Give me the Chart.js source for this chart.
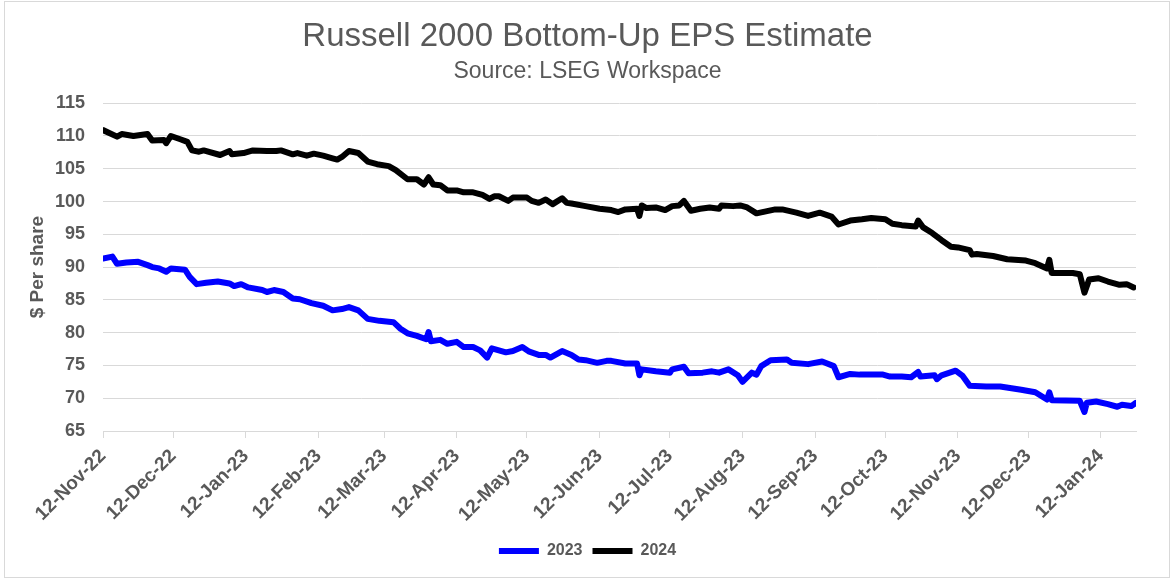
<!DOCTYPE html>
<html>
<head>
<meta charset="utf-8">
<script src="https://cdn.jsdelivr.net/npm/chart.js@4.4.1/dist/chart.umd.min.js"></script>
<style>
  body { margin: 0; background: #fff; }
  #wrap { position: relative; width: 1175px; height: 587px; }
  #frame { position: absolute; left: 4px; top: 1px; width: 1164px; height: 575px; border: 1px solid #d9d9d9; pointer-events: none; }
</style>
</head>
<body>
<div id="wrap">
  <canvas id="epsChart" width="1175" height="587"></canvas>
  <div id="frame"></div>
</div>
<script>
// days counted from 12-Nov-22
const monthDays = [0, 30, 61, 92, 120, 151, 181, 212, 242, 273, 304, 334, 365, 395, 426];
const tickLabels = ['12-Nov-22', '12-Dec-22', '12-Jan-23', '12-Feb-23', '12-Mar-23', '12-Apr-23', '12-May-23',
  '12-Jun-23', '12-Jul-23', '12-Aug-23', '12-Sep-23', '12-Oct-23', '12-Nov-23', '12-Dec-23', '12-Jan-24'];

const days2023 = [0, 4, 6, 10, 15, 19, 21, 24, 27, 29, 35, 37, 40, 44, 49, 54, 56, 59, 62, 68, 70, 73, 77, 81, 84, 89, 94, 98,
  102, 105, 109, 113, 118, 124, 127, 130, 134, 138, 139, 140, 144, 147, 151, 154, 158, 161, 164, 166, 172, 175, 179, 182,
  186, 189, 191, 196, 200, 203, 206, 211, 215, 217, 223, 228, 229, 230, 236, 242, 243, 248, 250, 256, 260, 263, 267, 271,
  273, 277, 279, 281, 285, 292, 294, 301, 307, 312, 314, 319, 323, 333, 336, 341, 345, 348, 349, 355, 356, 358, 364, 367,
  370, 377, 383, 392, 398, 403, 404, 405, 417, 419, 420, 424, 429, 433, 435, 439, 441];
const eps2023 = [91.3, 91.6, 90.5, 90.7, 90.8, 90.3, 90.0, 89.8, 89.3, 89.8, 89.6, 88.5, 87.4, 87.6, 87.8, 87.5, 87.1, 87.4,
  86.9, 86.5, 86.2, 86.5, 86.2, 85.2, 85.1, 84.5, 84.1, 83.4, 83.6, 83.9, 83.4, 82.1, 81.8, 81.6, 80.6, 79.9, 79.5, 79.0,
  80.1, 78.7, 78.9, 78.3, 78.6, 77.8, 77.8, 77.3, 76.2, 77.6, 77.0, 77.2, 77.8, 77.1, 76.6, 76.6, 76.2, 77.2, 76.6, 75.9,
  75.8, 75.4, 75.7, 75.7, 75.3, 75.3, 73.5, 74.4, 74.1, 73.9, 74.4, 74.8, 73.8, 73.9, 74.1, 73.9, 74.4, 73.5, 72.5, 73.9,
  73.6, 74.9, 75.8, 75.9, 75.4, 75.2, 75.6, 74.9, 73.2, 73.7, 73.6, 73.6, 73.3, 73.3, 73.2, 74.0, 73.3, 73.5, 72.9, 73.5,
  74.2, 73.4, 71.9, 71.8, 71.8, 71.3, 70.9, 69.8, 70.9, 69.7, 69.6, 67.9, 69.3, 69.5, 69.1, 68.7, 69.0, 68.8, 69.3];

const days2024 = [0, 6, 8, 13, 19, 21, 26, 27, 29, 33, 36, 38, 41, 43, 50, 54, 55, 60, 64, 70, 74, 76, 81, 83, 87, 90, 94, 98,
  100, 102, 105, 109, 113, 117, 122, 125, 130, 134, 137, 139, 141, 144, 147, 151, 154, 158, 162, 165, 167, 169, 173, 175,
  181, 183, 186, 189, 192, 196, 198, 200, 206, 212, 215, 217, 220, 223, 228, 229, 230, 232, 236, 240, 243, 246, 248, 251,
  255, 259, 263, 264, 269, 272, 275, 279, 283, 287, 290, 296, 301, 306, 311, 314, 319, 324, 328, 334, 337, 341, 347, 348,
  350, 354, 358, 362, 365, 370, 371, 373, 380, 386, 394, 398, 403, 404, 405, 414, 417, 419, 421, 425, 429, 434, 437, 440];
const eps2024 = [110.9, 109.9, 110.3, 110.0, 110.3, 109.3, 109.4, 108.9, 110.0, 109.5, 109.1, 107.8, 107.6, 107.8, 107.1,
  107.7, 107.2, 107.4, 107.8, 107.7, 107.7, 107.8, 107.2, 107.4, 107.0, 107.3, 107.0, 106.6, 106.4, 106.8, 107.7, 107.4,
  106.1, 105.7, 105.4, 104.8, 103.4, 103.4, 102.6, 103.7, 102.6, 102.5, 101.7, 101.7, 101.4, 101.4, 101.0, 100.4, 100.8,
  100.8, 100.1, 100.6, 100.6, 100.1, 99.8, 100.3, 99.6, 100.5, 99.8, 99.7, 99.3, 98.9, 98.8, 98.7, 98.4, 98.8, 98.9, 97.8,
  99.4, 99.0, 99.1, 98.7, 99.3, 99.4, 100.1, 98.6, 98.9, 99.1, 98.9, 99.4, 99.3, 99.4, 99.1, 98.2, 98.5, 98.8, 98.8, 98.3,
  97.8, 98.3, 97.7, 96.5, 97.1, 97.3, 97.5, 97.3, 96.6, 96.4, 96.2, 97.1, 96.1, 95.2, 94.1, 93.1, 93.0, 92.6, 91.9, 92.0,
  91.7, 91.2, 91.0, 90.6, 89.8, 91.1, 89.1, 89.1, 88.9, 86.1, 88.1, 88.3, 87.8, 87.3, 87.4, 86.9];

const grey = '#595959';
Chart.defaults.font.family = "'Liberation Sans', Arial, sans-serif";
Chart.defaults.color = grey;

function toPoints(xs, ys) {
  return xs.map((d, i) => ({ x: d, y: ys[i] }));
}

// title, subtitle and legend are centred on the whole frame, not just the plot width
const centreBlocks = {
  id: 'centreBlocks',
  beforeDraw(chart) {
    chart.boxes.forEach(b => {
      if (!(b instanceof Chart.Scale) && (b.position === 'top' || b.position === 'bottom')) {
        b.right = chart.width - 4;
      }
    });
  }
};

const ctx = document.getElementById('epsChart');
new Chart(ctx, {
  type: 'line',
  data: {
    datasets: [
      {
        label: '2023',
        data: toPoints(days2023, eps2023),
        borderColor: '#0000ff',
        backgroundColor: '#0000ff',
        borderWidth: 6,
        borderCapStyle: 'round',
        borderJoinStyle: 'round',
        pointRadius: 0,
        tension: 0
      },
      {
        label: '2024',
        data: toPoints(days2024, eps2024),
        borderColor: '#000000',
        backgroundColor: '#000000',
        borderWidth: 6,
        borderCapStyle: 'round',
        borderJoinStyle: 'round',
        pointRadius: 0,
        tension: 0
      }
    ]
  },
  options: {
    responsive: false,
    animation: false,
    layout: {
      padding: { left: 4, right: 39, top: 0, bottom: 18 }
    },
    scales: {
      x: {
        type: 'linear',
        min: 0,
        max: 441,
        afterBuildTicks: (scale) => {
          scale.ticks = monthDays.map(v => ({ value: v }));
        },
        afterFit: (scale) => {
          scale.height = 102;
        },
        grid: {
          drawOnChartArea: false,
          drawTicks: true,
          tickLength: 7,
          color: '#d9d9d9'
        },
        border: {
          display: true,
          color: '#d9d9d9',
          width: 1
        },
        ticks: {
          autoSkip: false,
          minRotation: 45,
          maxRotation: 45,
          padding: 7,
          color: grey,
          font: { size: 19, weight: 'bold' },
          callback: (value, index) => tickLabels[index]
        }
      },
      y: {
        min: 65,
        max: 115,
        afterFit: (scale) => {
          scale.width = 99;
        },
        border: { display: false },
        grid: {
          color: '#d9d9d9',
          drawTicks: false
        },
        ticks: {
          stepSize: 5,
          padding: 18,
          color: grey,
          font: { size: 18, weight: 'bold' }
        },
        title: {
          display: true,
          text: '$ Per share',
          color: grey,
          padding: { top: 22, bottom: 0 },
          font: { size: 19, weight: 'bold' }
        }
      }
    },
    plugins: {
      title: {
        display: true,
        text: 'Russell 2000 Bottom-Up EPS Estimate',
        color: grey,
        font: { size: 33, weight: 'normal' },
        padding: { top: 17, bottom: 0 }
      },
      subtitle: {
        display: true,
        text: 'Source: LSEG Workspace',
        color: grey,
        font: { size: 23, weight: 'normal' },
        padding: { top: 1, bottom: 18 }
      },
      legend: {
        position: 'bottom',
        labels: {
          usePointStyle: true,
          pointStyle: 'line',
          pointStyleWidth: 40,
          color: grey,
          font: { size: 16, weight: 'bold' },
          padding: 10
        }
      },
      tooltip: { enabled: false }
    }
  },
  plugins: [centreBlocks]
});
</script>
</body>
</html>
